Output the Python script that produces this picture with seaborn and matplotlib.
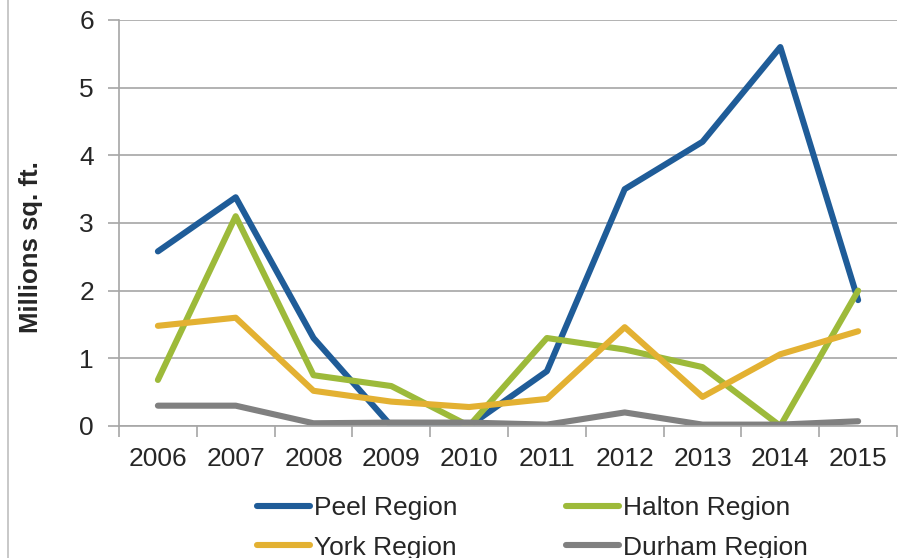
import pandas as pd
import matplotlib.pyplot as plt
import matplotlib.lines as mlines
from matplotlib.ticker import MultipleLocator, FixedLocator, NullFormatter
import seaborn as sns

# Data (millions sq. ft.)
years = ["2006", "2007", "2008", "2009", "2010", "2011", "2012", "2013", "2014", "2015"]
peel = [2.58, 3.38, 1.30, 0.0, 0.0, 0.81, 3.50, 4.20, 5.60, 1.86]
halton = [0.68, 3.10, 0.75, 0.59, 0.0, 1.30, 1.13, 0.87, 0.0, 2.00]
york = [1.48, 1.60, 0.52, 0.36, 0.28, 0.40, 1.46, 0.43, 1.06, 1.40]
durham = [0.30, 0.30, 0.04, 0.05, 0.05, 0.02, 0.20, 0.02, 0.02, 0.07]

regions = ["Peel Region", "Halton Region", "York Region", "Durham Region"]
colors = ["#1F5C98", "#9DBA3A", "#E3B132", "#808080"]

rows = []
for name, vals in zip(regions, [peel, halton, york, durham]):
    for i, v in enumerate(vals):
        rows.append({"pos": i, "year": years[i], "value": v, "region": name})
df = pd.DataFrame(rows)

sns.set_style("white")
plt.rcParams["font.family"] = ["Liberation Sans", "DejaVu Sans"]

fig = plt.figure(figsize=(9.07, 5.58), dpi=100)
ax = fig.add_axes([0.1312, 0.2366, 0.989 - 0.1312, 0.9642 - 0.2366])

sns.lineplot(data=df, x="pos", y="value", hue="region", hue_order=regions,
             palette=colors, linewidth=4.4, ax=ax, legend=False,
             solid_capstyle="round", solid_joinstyle="round")

grid_c = "#A6A6A6"
ax.set_ylim(0, 6)
ax.set_xlim(-0.5, len(years) - 0.5)
ax.yaxis.set_major_locator(MultipleLocator(1))
ax.grid(axis="y", color=grid_c, linewidth=1.2)
ax.set_axisbelow(True)

ax.set_xticks(range(len(years)))
ax.set_xticklabels(years)
ax.xaxis.set_minor_locator(FixedLocator([i - 0.5 for i in range(len(years) + 1)]))
ax.xaxis.set_minor_formatter(NullFormatter())
ax.tick_params(axis="x", which="major", length=0, pad=15, labelsize=19)
ax.tick_params(axis="x", which="minor", length=8, width=1.2, color=grid_c, bottom=True)
ax.tick_params(axis="y", length=8, width=1.2, color=grid_c, pad=10, labelsize=19, left=True)

for side in ["top", "right"]:
    ax.spines[side].set_visible(False)
for side in ["left", "bottom"]:
    ax.spines[side].set_color(grid_c)
    ax.spines[side].set_linewidth(1.2)

ax.set_xlabel("")
ax.set_ylabel("Millions sq. ft.", fontsize=18.5, fontweight="bold")
ax.yaxis.set_label_coords(-0.098, 0.44)

# legend fills row by row: Peel, Halton / York, Durham
order = [0, 2, 1, 3]
handles = [mlines.Line2D([], [], color=colors[i], linewidth=4.4, solid_capstyle="round")
           for i in order]
labels = [regions[i] for i in order]
fig.legend(handles, labels, loc="upper center", bbox_to_anchor=(0.587, 0.135),
           ncol=2, frameon=False, fontsize=19, handlelength=2.0,
           handletextpad=0.15, columnspacing=4.1, labelspacing=0.6, borderpad=0)

# outer chart border on the left
fig.add_artist(mlines.Line2D([0.009, 0.009], [0, 1], color="#BFBFBF",
                             linewidth=1.2, transform=fig.transFigure))

fig.savefig("out.png", dpi=100)
